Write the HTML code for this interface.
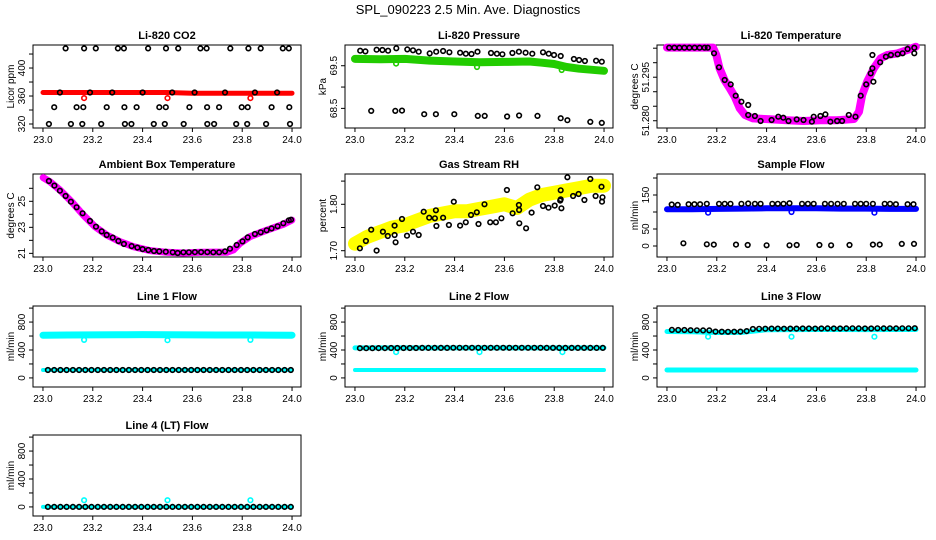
<!DOCTYPE html>
<html>
<head>
<meta charset="utf-8">
<style>
  html,body{margin:0;padding:0;background:#fff;}
  svg{display:block;font-family:"Liberation Sans",Arial,sans-serif;}
  .tick{font-size:10px;fill:#000;}
  .ptitle{font-size:11px;font-weight:bold;fill:#000;}
</style>
</head>
<body>
<svg id="chart" width="936" height="540" viewBox="0 0 936 540">
  <rect x="0" y="0" width="936" height="540" fill="#fff"/>
  <text x="468" y="14" text-anchor="middle" font-size="13">SPL_090223  2.5 Min. Ave. Diagnostics</text>
</svg>
<script>
// ---------- x-axis categories ----------
const xTicks = [23.0, 23.2, 23.4, 23.6, 23.8, 24.0];
const xTickLabels = ["23.0", "23.2", "23.4", "23.6", "23.8", "24.0"];

// ---------- CO2 ----------
const co2BlackT = [23.091,23.165,23.212,23.301,23.325,23.422,23.494,23.543,23.632,23.657,23.752,23.825,23.874,23.963,23.987,
  23.045,23.135,23.162,23.256,23.327,23.376,23.467,23.493,23.588,23.659,23.707,23.798,23.822,23.918,23.989,
  23.024,23.112,23.158,23.234,23.329,23.355,23.445,23.489,23.565,23.660,23.687,23.776,23.820,23.896,23.992,
  23.068,23.189,23.278,23.400,23.519,23.609,23.731,23.851,23.940];
const co2BlackV = [428,428,428,428,428,428,428,428,428,428,428,428,428,428,428,
  344,344,344,344,344,344,344,344,344,344,344,344,344,344,344,
  320,320,320,320,320,320,320,320,320,320,320,320,320,320,320,
  365,365,365,365,365,365,365,365,365];
const co2RedT = [23.0,23.1,23.2,23.3,23.4,23.5,23.6,23.7,23.8,23.9,24.0];
const co2RedV = [365,365,365,365,365,365,364,364,364,364,364];
const co2RedOutT = [23.165,23.5,23.833];
const co2RedOutV = [357,357,357];

// ---------- Pressure ----------
const presBlackT = [23.021,23.042,23.087,23.110,23.133,23.166,23.210,23.233,23.256,23.300,23.326,23.354,23.379,23.422,23.445,23.468,23.492,23.546,23.570,23.592,23.632,23.658,23.685,23.712,23.755,23.778,23.799,23.826,23.879,23.900,23.923,23.968,23.991,
  23.065,23.162,23.189,23.278,23.325,23.399,23.493,23.521,23.611,23.659,23.733,23.826,23.853,23.945,23.991];
const presBlackV = [69.853,69.837,69.876,69.869,69.853,69.908,69.884,69.861,69.829,69.790,69.829,69.845,69.814,69.806,69.782,69.775,69.829,69.798,69.782,69.767,69.798,69.829,69.806,69.782,69.814,69.782,69.751,69.728,69.657,69.634,69.610,69.618,69.595,
  68.441,68.441,68.449,68.363,68.363,68.363,68.324,68.324,68.309,68.332,68.324,68.270,68.223,68.184,68.160];
const presGreenT = [23.0,23.1,23.2,23.3,23.4,23.5,23.6,23.7,23.75,23.8,23.85,23.9,24.0];
const presGreenV = [69.66,69.65,69.66,69.62,69.60,69.58,69.59,69.60,69.57,69.54,69.47,69.43,69.38];
const presGreenOutT = [23.165,23.49,23.83];
const presGreenOutV = [69.55,69.47,69.40];

// ---------- Li-820 Temperature ----------
const tempBlackT = [23.009,23.030,23.050,23.070,23.090,23.111,23.131,23.151,23.164,23.189,23.209,23.232,23.256,23.276,23.299,23.326,23.326,23.353,23.376,23.420,23.447,23.467,23.488,23.521,23.548,23.582,23.589,23.616,23.636,23.656,23.683,23.703,23.730,23.757,23.778,23.800,23.818,23.825,23.825,23.829,23.856,23.879,23.899,23.926,23.946,23.966,23.993,23.993];
const tempBlackV = [51.30518,51.30518,51.30518,51.30518,51.30518,51.30518,51.30518,51.30518,51.30518,51.30323,51.29840,51.29403,51.29254,51.28863,51.28656,51.28541,51.28197,51.28162,51.27990,51.28024,51.28139,51.28105,51.27990,51.28047,51.28024,51.27967,51.28139,51.28162,51.28220,51.27967,51.27990,51.27990,51.28197,51.28139,51.28863,51.29254,51.29633,51.29806,51.30266,51.29346,51.30013,51.30208,51.30266,51.30289,51.30323,51.30473,51.30518,51.30323];
const tempMagT = [23.0,23.185,23.198,23.211,23.231,23.252,23.272,23.292,23.313,23.346,23.413,23.481,23.548,23.616,23.683,23.751,23.771,23.784,23.804,23.831,23.858,23.885,23.925,23.966,23.999];
const tempMagV = [51.3052,51.3052,51.3027,51.2981,51.2940,51.2912,51.2883,51.2843,51.2820,51.2808,51.2805,51.2802,51.2799,51.2802,51.2802,51.2806,51.2831,51.2889,51.2935,51.2981,51.3015,51.3027,51.3032,51.3044,51.3055];

// ---------- Ambient Box Temperature ----------
const ambBlackT = [23.024,23.046,23.068,23.091,23.112,23.135,23.159,23.189,23.213,23.236,23.256,23.280,23.303,23.325,23.356,23.379,23.400,23.423,23.446,23.467,23.493,23.521,23.541,23.564,23.586,23.610,23.635,23.660,23.684,23.707,23.731,23.751,23.778,23.801,23.822,23.851,23.874,23.898,23.918,23.942,23.965,23.987,23.996];
const ambBlackV = [26.56,26.21,25.82,25.41,24.97,24.54,24.08,23.49,23.05,22.69,22.41,22.21,21.95,21.72,21.56,21.44,21.33,21.26,21.18,21.15,21.13,21.08,21.03,21.08,21.08,21.10,21.10,21.10,21.08,21.08,21.15,21.36,21.64,21.92,22.23,22.49,22.62,22.77,22.92,23.08,23.31,23.54,23.59];
const ambMagT = [23.001,23.028,23.068,23.115,23.162,23.209,23.256,23.309,23.363,23.430,23.497,23.564,23.631,23.697,23.738,23.764,23.791,23.831,23.871,23.912,23.965,23.999];
const ambMagV = [26.82,26.51,25.87,24.97,23.95,23.05,22.41,21.90,21.51,21.21,21.08,21.03,21.08,21.10,21.08,21.26,21.77,22.28,22.59,22.87,23.23,23.56];

// ---------- Gas Stream RH ----------
const rhBlackT = [23.020,23.044,23.087,23.065,23.112,23.132,23.159,23.163,23.159,23.189,23.209,23.233,23.256,23.276,23.298,23.321,23.325,23.327,23.354,23.377,23.397,23.422,23.445,23.466,23.489,23.496,23.520,23.543,23.566,23.588,23.610,23.633,23.658,23.659,23.660,23.687,23.709,23.732,23.755,23.777,23.802,23.824,23.826,23.826,23.829,23.853,23.876,23.898,23.921,23.945,23.966,23.990,23.992,23.994];
const rhBlackV = [1.7051,1.7209,1.7001,1.7453,1.7410,1.7317,1.7338,1.7180,1.7540,1.7683,1.7324,1.7410,1.7338,1.7841,1.7712,1.7698,1.7870,1.7532,1.7712,1.7554,1.8057,1.7540,1.7611,1.7769,1.7827,1.7576,1.8000,1.7611,1.7611,1.7698,1.8308,1.7805,1.7985,1.7877,1.7590,1.7482,1.7820,1.8366,1.7963,1.7927,1.7971,1.8079,1.8301,1.8107,1.7913,1.8581,1.8179,1.8222,1.8093,1.8545,1.8179,1.8380,1.8057,1.8150];
const rhYellowT = [23.0,23.05,23.1,23.15,23.2,23.25,23.3,23.35,23.4,23.45,23.5,23.55,23.6,23.65,23.7,23.75,23.8,23.85,23.9,23.95,24.0];
const rhYellowV = [1.715,1.730,1.740,1.750,1.755,1.765,1.775,1.780,1.785,1.785,1.790,1.795,1.800,1.792,1.810,1.820,1.825,1.830,1.835,1.840,1.840];

// ---------- Sample Flow ----------
const sfBlackT = [23.019,23.043,23.087,23.110,23.133,23.160,23.209,23.232,23.255,23.299,23.326,23.353,23.376,23.423,23.445,23.468,23.492,23.542,23.566,23.589,23.634,23.659,23.685,23.710,23.755,23.778,23.800,23.827,23.874,23.896,23.919,23.966,23.990,
  23.066,23.160,23.188,23.277,23.324,23.400,23.492,23.521,23.612,23.659,23.733,23.827,23.854,23.943,23.992];
const sfBlackV = [122,121,123,123,123,124,124,124,124,124,125,124,124,124,124,124,126,124,124,124,124,124,124,124,124,124,124,124,124,124,123,123,123,
  8,5,4,4,3,2,2,3,3,2,3,4,4,6,6];
const sfBlueT = [23.0,23.1,23.2,23.3,23.4,23.5,23.6,23.7,23.8,23.9,24.0];
const sfBlueV = [108,108,109,110,111,111,111,110,110,109,109];
const sfBlueOutT = [23.165,23.5,23.833];
const sfBlueOutV = [98,100,98];

// ---------- Flow lines (Line 1-4) ----------
const flowT = [23.020,23.045,23.070,23.095,23.120,23.145,23.170,23.195,23.220,23.245,23.270,23.295,23.320,23.345,23.370,23.395,23.420,23.445,23.470,23.495,
  23.520,23.545,23.570,23.595,23.620,23.645,23.670,23.695,23.720,23.745,23.770,23.795,23.820,23.845,23.870,23.895,23.920,23.945,23.970,23.995];
const cyanT = [23.0,23.1,23.2,23.3,23.4,23.5,23.6,23.7,23.8,23.9,24.0];
const cyanOutT = [23.165,23.5,23.833];

const line1Black = [114,114,114,114,114,114,114,114,114,114,114,114,114,114,114,114,114,114,114,114,114,114,114,114,114,114,114,114,114,114,114,114,114,114,114,114,114,114,114,114];
const line1CyanHi = [612,614,616,618,620,618,616,615,614,613,612];
const line1CyanLo = [114,114,114,114,114,114,114,114,114,114,114];
const line1CyanOut = [545,540,545];

const line2Black = [425,426,426,427,427,428,428,428,429,429,430,430,430,430,430,431,431,431,431,431,431,431,431,431,431,431,431,431,431,431,430,430,430,430,430,430,430,430,430,430];
const line2CyanHi = [430,430,430,430,430,430,430,430,430,430,430];
const line2CyanLo = [114,114,114,114,114,114,114,114,114,114,114];
const line2CyanOut = [370,370,370];

const line3Black = [688,686,686,684,682,680,680,664,662,660,662,664,670,700,704,705,706,706,705,706,707,708,708,707,708,709,708,708,709,710,709,708,708,710,709,710,709,710,710,712];
const line3CyanHi = [665,662,650,652,690,692,694,694,692,694,694];
const line3CyanLo = [114,114,114,114,114,114,114,114,114,114,114];
const line3CyanOut = [590,590,590];

const line4Black = [0,0,0,0,0,0,0,0,0,0,0,0,0,0,0,0,0,0,0,0,0,0,0,0,0,0,0,0,0,0,0,0,0,0,0,0,0,0,0,0];
const line4Cyan = [0,0,0,0,0,0,0,0,0,0,0];
const line4CyanOut = [96,96,96];

// ---------- layout ----------
const NS = "http://www.w3.org/2000/svg";
const svg = document.getElementById("chart");
const colOff = [0, 312, 624];
const rowTop = [45, 174, 306, 435];
const rowBot = [128, 257, 387, 516];
const X0 = 22.96, X1 = 24.036;

function el(tag, attrs, parent) {
  const e = document.createElementNS(NS, tag);
  for (const k in attrs) e.setAttribute(k, attrs[k]);
  parent.appendChild(e);
  return e;
}

function makePanel(slug, col, row, title, ylab, ydom, yTicks, yLabels) {
  const g = el("g", {}, svg);
  
  
  const L = colOff[col] + 33, R = colOff[col] + 301, T = rowTop[row], B = rowBot[row];
  const p = {g, L, R, T, B,
    x: t => L + (t - X0) / (X1 - X0) * (R - L),
    y: v => B - (v - ydom[0]) / (ydom[1] - ydom[0]) * (B - T)};
  const box = el("rect", {x: L, y: T, width: R - L, height: B - T, fill: "none", stroke: "#000", "stroke-width": 1}, g);
  
  
  const tt = el("text", {x: (L + R) / 2, y: T - 6, "text-anchor": "middle", class: "ptitle"}, g);
  tt.textContent = title;
  
  
  const yl = el("text", {transform: "translate(" + (L - 19) + "," + ((T + B) / 2) + ") rotate(-90)", "text-anchor": "middle", class: "tick"}, g);
  yl.textContent = ylab;
  
  
  const xa = el("g", {}, g);
  
  
  el("line", {x1: p.x(xTicks[0]), x2: p.x(xTicks[xTicks.length - 1]), y1: B, y2: B, stroke: "#000"}, xa);
  xTicks.forEach((t, i) => {
    el("line", {x1: p.x(t), x2: p.x(t), y1: B, y2: B + 4, stroke: "#000"}, xa);
    const lab = el("text", {x: p.x(t), y: B + 15, "text-anchor": "middle", class: "tick"}, xa);
    lab.textContent = xTickLabels[i];
    
    
  });
  const ya = el("g", {}, g);
  
  
  yTicks.forEach((v, i) => {
    el("line", {x1: L - 4, x2: L, y1: p.y(v), y2: p.y(v), stroke: "#000"}, ya);
    if (yLabels[i]) {
      const lab = el("text", {transform: "translate(" + (L - 8) + "," + p.y(v) + ") rotate(-90)", "text-anchor": "middle", class: "tick"}, ya);
      lab.textContent = yLabels[i];
      
      
    }
  });
  return p;
}

function band(p, ts, vs, color, w, name) {
  const pts = ts.map((t, i) => p.x(t).toFixed(1) + "," + p.y(vs[i]).toFixed(1)).join(" ");
  const pl = el("polyline", {points: pts, fill: "none", stroke: color, "stroke-width": w, "stroke-linejoin": "round", "stroke-linecap": "round"}, p.g);
  
  
}

function dots(p, ts, vs, color, name) {
  const g = el("g", {}, p.g);
  
  
  ts.forEach((t, i) => {
    const c = el("circle", {cx: p.x(t).toFixed(1), cy: p.y(vs[i]).toFixed(1), r: 2.3, fill: "none", stroke: color, "stroke-width": 1.6}, g);
    
    
  });
}

let p = makePanel("co2", 0, 0, "Li-820 CO2", "Licor ppm", [314.3, 432.9], [320,340,360,380,400,420], ["320","","360","","400",""]);
band(p, co2RedT, co2RedV, "#ff0000", 5, "co2-raw-band");
dots(p, co2RedOutT, co2RedOutV, "#ff0000", "co2-raw-outliers");
dots(p, co2BlackT, co2BlackV, "#000", "co2-average-points");

p = makePanel("pressure", 1, 0, "Li-820 Pressure", "kPa", [68.04, 69.986], [68.5, 69.0, 69.5], ["68.5", "", "69.5"]);
band(p, presGreenT, presGreenV, "#22cc00", 8, "pressure-raw-band");
dots(p, presGreenOutT, presGreenOutV, "#22cc00", "pressure-raw-outliers");
dots(p, presBlackT, presBlackV, "#000", "pressure-average-points");

p = makePanel("li820-temp", 2, 0, "Li-820 Temperature", "degrees C", [51.2775, 51.3061], [51.280,51.285,51.290,51.295,51.300,51.305], ["51.280","","","51.295","",""]);
band(p, tempMagT, tempMagV, "#ff00ff", 8, "li820-temp-raw-band");
dots(p, tempBlackT, tempBlackV, "#000", "li820-temp-average-points");

p = makePanel("ambient-temp", 0, 1, "Ambient Box Temperature", "degrees C", [20.72, 27.1], [21,22,23,24,25,26], ["21","","23","","25",""]);
band(p, ambMagT, ambMagV, "#ff00ff", 7, "ambient-temp-raw-band");
dots(p, ambBlackT, ambBlackV, "#000", "ambient-temp-average-points");

p = makePanel("rh", 1, 1, "Gas Stream RH", "percent", [1.6864, 1.8653], [1.70,1.75,1.80,1.85], ["1.70","","1.80",""]);
band(p, rhYellowT, rhYellowV, "#ffff00", 14, "rh-raw-band");
dots(p, rhBlackT, rhBlackV, "#000", "rh-average-points");

p = makePanel("sample-flow", 2, 1, "Sample Flow", "ml/min", [-32.4, 211.8], [0,50,100,150,200], ["0","50","","150",""]);
band(p, sfBlueT, sfBlueV, "#0000ff", 6, "sample-flow-raw-band");
dots(p, sfBlueOutT, sfBlueOutV, "#0000ff", "sample-flow-raw-outliers");
dots(p, sfBlackT, sfBlackV, "#000", "sample-flow-average-points");

const flowDom = [-130, 1030];
const flowTicks = [0,200,400,600,800,1000];
const flowLabels = ["0","","400","","800",""];

p = makePanel("line1-flow", 0, 2, "Line 1 Flow", "ml/min", flowDom, flowTicks, flowLabels);
band(p, cyanT, line1CyanHi, "#00ffff", 7, "line1-raw-high-band");
band(p, cyanT, line1CyanLo, "#00ffff", 4, "line1-raw-low-band");
dots(p, cyanOutT, line1CyanOut, "#00ffff", "line1-raw-outliers");
dots(p, flowT, line1Black, "#000", "line1-average-points");

p = makePanel("line2-flow", 1, 2, "Line 2 Flow", "ml/min", flowDom, flowTicks, flowLabels);
band(p, cyanT, line2CyanHi, "#00ffff", 5, "line2-raw-high-band");
band(p, cyanT, line2CyanLo, "#00ffff", 4, "line2-raw-low-band");
dots(p, cyanOutT, line2CyanOut, "#00ffff", "line2-raw-outliers");
dots(p, flowT, line2Black, "#000", "line2-average-points");

p = makePanel("line3-flow", 2, 2, "Line 3 Flow", "ml/min", flowDom, flowTicks, flowLabels);
band(p, cyanT, line3CyanHi, "#00ffff", 5, "line3-raw-high-band");
band(p, cyanT, line3CyanLo, "#00ffff", 5, "line3-raw-low-band");
dots(p, cyanOutT, line3CyanOut, "#00ffff", "line3-raw-outliers");
dots(p, flowT, line3Black, "#000", "line3-average-points");

p = makePanel("line4-flow", 0, 3, "Line 4 (LT) Flow", "ml/min", flowDom, flowTicks, flowLabels);
band(p, cyanT, line4Cyan, "#00ffff", 4, "line4-raw-band");
dots(p, cyanOutT, line4CyanOut, "#00ffff", "line4-raw-outliers");
dots(p, flowT, line4Black, "#000", "line4-average-points");
</script>
</body>
</html>
